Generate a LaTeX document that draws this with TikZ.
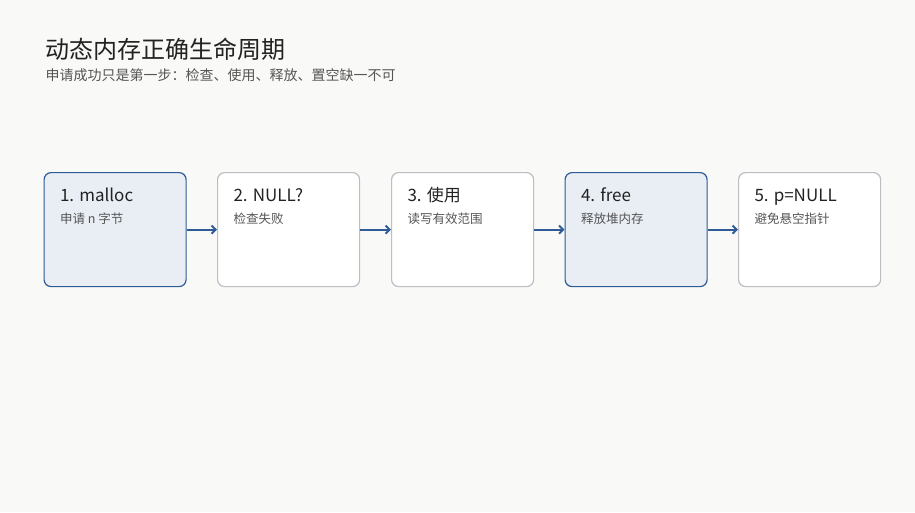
\documentclass[tikz,border=0pt]{standalone}
\usepackage{fontspec}
\setmainfont{Noto Sans CJK SC}
\usetikzlibrary{arrows.meta}
\definecolor{bgc}{HTML}{F9F9F7}
\definecolor{accent}{HTML}{2F5B97}
\definecolor{accfill}{HTML}{E9EEF5}
\definecolor{greyline}{HTML}{BDBDC2}
\definecolor{subtxt}{HTML}{555555}
\definecolor{maintxt}{HTML}{222222}
\begin{document}
\begin{tikzpicture}[x=1pt,y=-1pt]
    \tikzstyle{stepbox}=[draw=greyline, line width=1.2pt, fill=white, rounded corners=7pt,
      minimum width=142pt, minimum height=114pt, inner sep=0pt, anchor=north west]
    \tikzstyle{hotbox}=[stepbox, draw=accent, fill=accfill]
    \tikzstyle{link}=[draw=accent, line width=2pt, -{Straight Barb[length=4pt,width=8pt]}]
    \fill [bgc] (0,0) rectangle (915,512);
    \useasboundingbox (0,0) rectangle (915,512);
    \node [anchor=base west, text=maintxt, font=\fontsize{24}{28}\selectfont] (title) at (42,58) {动态内存正确生命周期};
    \node [anchor=base west, text=subtxt, font=\fontsize{14}{17}\selectfont] (sub) at (42,80) {申请成功只是第一步：检查、使用、释放、置空缺一不可};
    \node [hotbox] (s1) at (43.5,172) {};
    \node [stepbox] (s2) at (217,172) {};
    \node [stepbox] (s3) at (391,172) {};
    \node [hotbox] (s4) at (564.5,172) {};
    \node [stepbox] (s5) at (738,172) {};
    \foreach \n/\t/\d in {s1/{1. malloc}/{申请 n 字节}, s2/{2. NULL?}/{检查失败},
      s3/{3. 使用}/{读写有效范围}, s4/{4. free}/{释放堆内存}, s5/{5. p=NULL}/{避免悬空指针}}{
      \node [anchor=base west, text=maintxt, font=\fontsize{17}{20}\selectfont] at ([xshift=13pt,yshift=-29pt]\n.north west) {\t};
      \node [anchor=base west, text=subtxt, font=\fontsize{12.5}{15}\selectfont] at ([xshift=13pt,yshift=-51pt]\n.north west) {\d};
    }
    \draw [link] (s1.east) -- (s2.west);
    \draw [link] (s2.east) -- (s3.west);
    \draw [link] (s3.east) -- (s4.west);
    \draw [link] (s4.east) -- (s5.west);
\end{tikzpicture}
\end{document}
